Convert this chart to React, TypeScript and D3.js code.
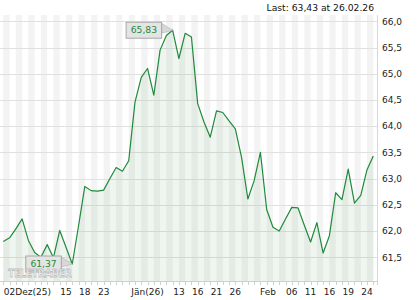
import React from "react";
import * as d3 from "d3";

// Daily closes (trading days)
const prices: number[] = [
  61.8, 61.87, 62.04, 62.23, 61.82, 61.59, 61.5, 61.74, 61.49, 62.01,
  61.69, 61.37, 62.1, 62.85, 62.77, 62.76, 62.78, 63.0, 63.21, 63.14,
  63.34, 64.46, 64.93, 65.1, 64.59, 65.45, 65.73, 65.83, 65.29, 65.77,
  65.7, 64.43, 64.08, 63.79, 64.29, 64.26, 64.1, 63.95, 63.4, 62.61,
  62.96, 63.5, 62.41, 62.07, 62.0, 62.23, 62.45, 62.44, 62.11, 61.79,
  62.16, 61.58, 61.91, 62.73, 62.6, 63.18, 62.53, 62.68, 63.17, 63.43,
];

// x-axis labels positioned by trading-day index
const xLabels: string[] = ["02", "Dez(25)", "15", "18", "23", "Jän(26)", "13", "16", "21", "26", "Feb", "06", "11", "16", "19", "24"];
const xLabelIdx: number[] = [1, 4.75, 10, 13, 16, 23, 28, 31, 34, 37, 42.2, 46, 49, 52, 55, 58];

const yTicks: number[] = [61.5, 62.0, 62.5, 63.0, 63.5, 64.0, 64.5, 65.0, 65.5, 66.0];

const title = "Last: 63,43 at 26.02.26";

const W = 420;
const H = 300;
const plotLeft = 0;
const plotRight = 377;
const plotTop = 15;
const plotBottom = 281;

const font = "DejaVu Sans, Verdana, sans-serif";
const green = "#1f8a3c";

const fmt = (v: number, d: number) => v.toFixed(d).replace(".", ",");

export default function App() {
  const x = d3.scaleLinear().domain([0, prices.length - 1]).range([3.3, 373.3]);
  const y = d3.scaleLinear().domain([61.5, 66]).range([257.2, 21.3]);

  const line = d3
    .line<number>()
    .x((_, i) => x(i))
    .y((d) => y(d));
  const area = d3
    .area<number>()
    .x((_, i) => x(i))
    .y0(plotBottom)
    .y1((d) => y(d));

  const maxIdx = d3.maxIndex(prices);
  const minIdx = d3.minIndex(prices);

  const bands: number[] = [];
  for (let i = 0; i + 1 < prices.length; i += 2) bands.push(i);

  const callout = (idx: number, key: string) => {
    const px = x(idx);
    const py = y(prices[idx]);
    const right = px - 11;
    const left = right - 35.5;
    return (
      <g key={key}>
        <polygon
          points={`${right},${py - 7} ${px},${py} ${right},${py + 3}`}
          fill="#d8d8d8"
          stroke="#b0b0b0"
          strokeWidth={0.6}
        />
        <rect x={left} y={py - 8} width={right - left} height={16} fill="#e4e4e4" stroke="#a8a8a8" strokeWidth={1} />
        <text x={(left + right) / 2} y={py + 3} textAnchor="middle" fontSize={9.2} fontFamily={font} fill={green}>
          {fmt(prices[idx], 2)}
        </text>
      </g>
    );
  };

  return (
    <svg
      width={W}
      height={H}
      style={{ position: "absolute", left: 0, top: 0, background: "#fff" }}
    >
      {/* stripes */}
      {bands.map((i) => (
        <rect key={"b" + i} x={x(i)} y={plotTop} width={x(i + 1) - x(i)} height={plotBottom - plotTop} fill="#f3f3f3" />
      ))}
      {/* grid */}
      {yTicks.map((t) => (
        <line key={"g" + t} x1={plotLeft} x2={plotRight} y1={Math.round(y(t)) + 0.5} y2={Math.round(y(t)) + 0.5} stroke="#e0e0e0" strokeWidth={1} />
      ))}
      {/* area & line */}
      <path d={area(prices) || ""} fill="#2e7d32" fillOpacity={0.08} />
      <path d={line(prices) || ""} fill="none" stroke={green} strokeWidth={1.2} strokeLinejoin="round" />

      {/* axes */}
      <line x1={plotLeft} x2={plotRight} y1={plotBottom + 0.5} y2={plotBottom + 0.5} stroke="#d0d0d0" />
      <line x1={plotRight + 0.5} x2={plotRight + 0.5} y1={plotTop} y2={plotBottom + 4} stroke="#d8d8d8" />
      {prices.map((_, i) => (
        <line key={"t" + i} x1={Math.round(x(i)) + 0.5} x2={Math.round(x(i)) + 0.5} y1={plotBottom + 1} y2={plotBottom + 4} stroke="#d0d0d0" />
      ))}
      {yTicks.map((t) => (
        <text key={"yl" + t} x={382} y={y(t) + 3.3} fontSize={9} fontFamily={font} fill="#222">
          {fmt(t, 1)}
        </text>
      ))}
      {xLabels.map((l, i) => (
        <text key={"xl" + i} x={x(xLabelIdx[i])} y={295} textAnchor="middle" fontSize={9} fontFamily={font} fill="#222">
          {l}
        </text>
      ))}

      {/* callouts */}
      {callout(maxIdx, "max")}
      {callout(minIdx, "min")}

      {/* watermark */}
      <text
        x={8.3}
        y={277}
        fontSize={11}
        fontWeight="bold"
        fontFamily={font}
        textLength={63.5}
        lengthAdjust="spacingAndGlyphs"
        fill="#ffffff"
        fillOpacity={0.75}
        stroke="#bdbdbd"
        strokeWidth={0.8}
      >
        TELETRADER
      </text>

      {/* title */}
      <text x={374} y={11} textAnchor="end" fontSize={9.2} fontFamily={font} fill="#111">
        {title}
      </text>
    </svg>
  );
}
